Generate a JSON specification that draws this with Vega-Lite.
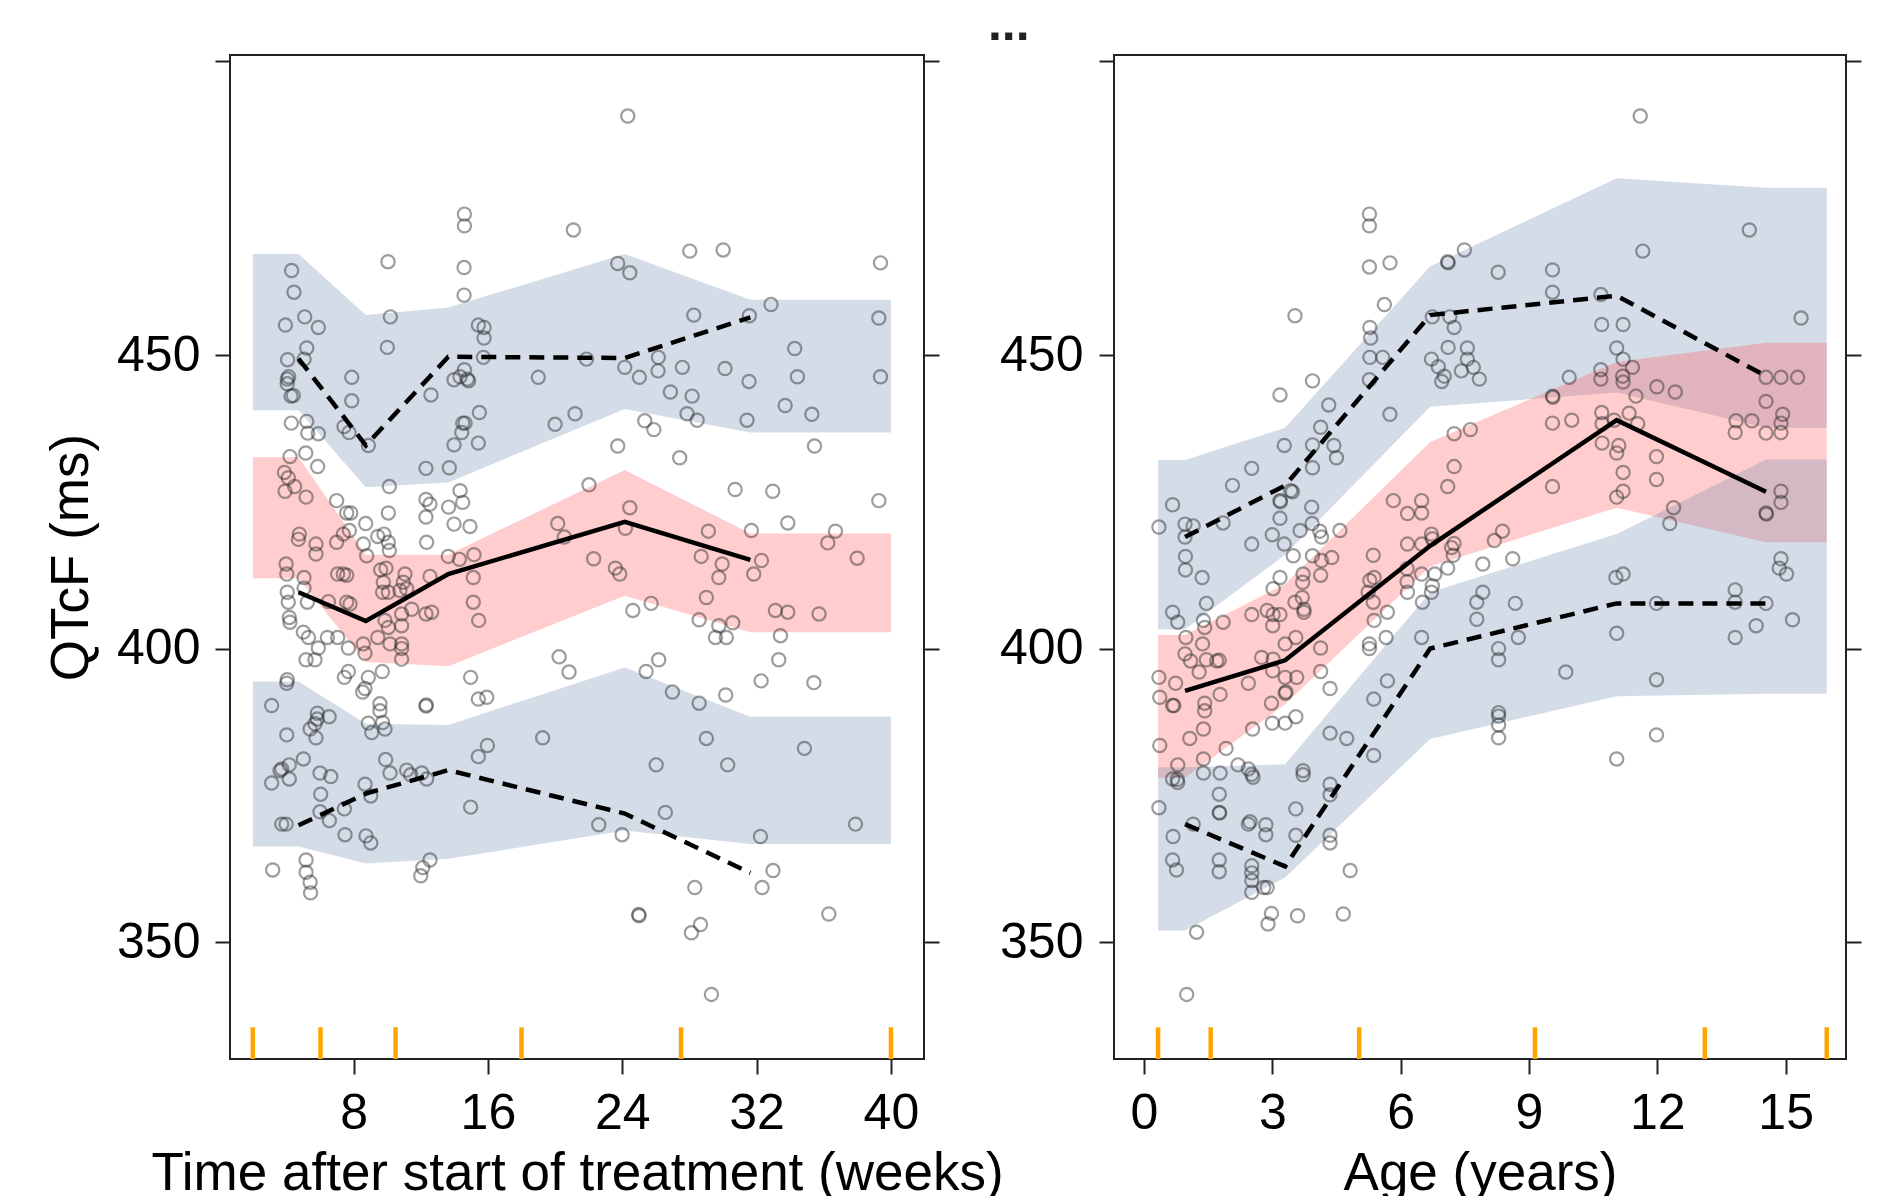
{
"$schema": "https://vega.github.io/schema/vega-lite/v6.json",
"background": "white",
"padding": {"left": 44, "top": 0, "right": 0, "bottom": 0},
"title": {"text": "...", "anchor": "middle", "fontSize": 50, "fontWeight": "bold", "color": "#222", "dx": 55, "offset": 4},
"spacing": 190,
"bounds": "flush",
"config": {
  "font": "Liberation Sans",
  "view": {"stroke": "#222", "strokeWidth": 2},
  "axis": {"grid": false, "domain": false, "tickColor": "#222", "tickWidth": 2, "tickSize": 15, "labelFontSize": 50, "labelColor": "black", "titleFontSize": 53, "titleColor": "black", "titleFontWeight": "normal", "labelFont": "Liberation Sans", "titleFont": "Liberation Sans"}
},
"datasets": {
"bandT": [
{"band":"p95","x":2.0,"lo":440.6,"hi":467.2},{"band":"p95","x":4.72,"lo":440.6,"hi":467.2},{"band":"p95","x":8.73,"lo":427.5,"hi":456.8},{"band":"p95","x":13.64,"lo":428.3,"hi":458.1},{"band":"p95","x":24.15,"lo":440.8,"hi":467.2},{"band":"p95","x":31.63,"lo":436.8,"hi":459.4},{"band":"p95","x":40.0,"lo":436.8,"hi":459.4},
{"band":"p50","x":2.0,"lo":412.0,"hi":432.6},{"band":"p50","x":4.72,"lo":412.0,"hi":432.6},{"band":"p50","x":8.73,"lo":397.7,"hi":416.0},{"band":"p50","x":13.64,"lo":397.0,"hi":416.0},{"band":"p50","x":24.15,"lo":409.0,"hi":430.4},{"band":"p50","x":31.63,"lo":402.8,"hi":419.6},{"band":"p50","x":40.0,"lo":402.8,"hi":419.6},
{"band":"p05","x":2.0,"lo":366.3,"hi":394.4},{"band":"p05","x":4.72,"lo":366.3,"hi":394.4},{"band":"p05","x":8.73,"lo":363.4,"hi":387.2},{"band":"p05","x":13.64,"lo":364.2,"hi":387.0},{"band":"p05","x":24.15,"lo":369.0,"hi":396.8},{"band":"p05","x":31.63,"lo":366.7,"hi":388.4},{"band":"p05","x":40.0,"lo":366.7,"hi":388.4}
],
"bandA": [
{"band":"p95","x":0.33,"lo":403.3,"hi":432.1},{"band":"p95","x":0.96,"lo":403.3,"hi":432.1},{"band":"p95","x":3.30,"lo":416.0,"hi":437.6},{"band":"p95","x":6.69,"lo":441.2,"hi":465.1},{"band":"p95","x":11.05,"lo":443.6,"hi":480.1},{"band":"p95","x":14.54,"lo":437.6,"hi":478.5},{"band":"p95","x":15.96,"lo":437.6,"hi":478.5},
{"band":"p50","x":0.33,"lo":378.0,"hi":402.3},{"band":"p50","x":0.96,"lo":378.0,"hi":402.3},{"band":"p50","x":3.30,"lo":390.5,"hi":411.0},{"band":"p50","x":6.69,"lo":414.0,"hi":435.2},{"band":"p50","x":11.05,"lo":424.0,"hi":448.8},{"band":"p50","x":14.54,"lo":418.1,"hi":452.1},{"band":"p50","x":15.96,"lo":418.1,"hi":452.1},
{"band":"p05","x":0.33,"lo":352.0,"hi":379.8},{"band":"p05","x":0.96,"lo":352.0,"hi":379.8},{"band":"p05","x":3.30,"lo":361.0,"hi":380.3},{"band":"p05","x":6.69,"lo":384.6,"hi":409.6},{"band":"p05","x":11.05,"lo":391.9,"hi":419.5},{"band":"p05","x":14.54,"lo":392.3,"hi":432.2},{"band":"p05","x":15.96,"lo":392.3,"hi":432.2}
],
"lineT": [
{"q":"p95","x":4.72,"y":449.4},{"q":"p95","x":8.73,"y":434.6},{"q":"p95","x":13.64,"y":449.7},{"q":"p95","x":24.15,"y":449.5},{"q":"p95","x":31.63,"y":456.4},
{"q":"p50","x":4.72,"y":409.6},{"q":"p50","x":8.73,"y":404.7},{"q":"p50","x":13.64,"y":412.7},{"q":"p50","x":24.15,"y":421.6},{"q":"p50","x":31.63,"y":415.1},
{"q":"p05","x":4.72,"y":369.9},{"q":"p05","x":8.73,"y":375.3},{"q":"p05","x":13.64,"y":379.3},{"q":"p05","x":24.15,"y":371.9},{"q":"p05","x":31.63,"y":361.8}
],
"lineA": [
{"q":"p95","x":0.96,"y":419.0},{"q":"p95","x":3.30,"y":427.8},{"q":"p95","x":6.69,"y":456.8},{"q":"p95","x":11.05,"y":460.1},{"q":"p95","x":14.54,"y":446.4},
{"q":"p50","x":0.96,"y":392.8},{"q":"p50","x":3.30,"y":398.0},{"q":"p50","x":6.69,"y":417.5},{"q":"p50","x":11.05,"y":438.9},{"q":"p50","x":14.54,"y":426.7},
{"q":"p05","x":0.96,"y":370.1},{"q":"p05","x":3.30,"y":362.9},{"q":"p05","x":6.69,"y":400.0},{"q":"p05","x":11.05,"y":407.7},{"q":"p05","x":14.54,"y":407.7}
],
"rugT": [{"x":2.0},{"x":6.03},{"x":10.5},{"x":18.0},{"x":27.5},{"x":40.0}],
"rugA": [{"x":0.33},{"x":1.56},{"x":5.03},{"x":9.14},{"x":13.11},{"x":15.96}],
"obsT": [
{"x":14.60,"y":474.0},{"x":14.60,"y":472.0},{"x":21.09,"y":471.3},{"x":10.05,"y":465.9},{"x":14.58,"y":464.9},{"x":4.31,"y":464.4},{"x":4.45,"y":460.7},{"x":14.58,"y":460.2},{"x":10.19,"y":456.5},{"x":5.09,"y":456.5},{"x":3.94,"y":455.1},{"x":5.90,"y":454.7},{"x":15.43,"y":455.1},{"x":15.77,"y":454.7},{"x":15.77,"y":452.9},{"x":10.01,"y":451.3},{"x":5.21,"y":451.2},{"x":4.07,"y":449.2},{"x":5.05,"y":449.3},{"x":15.73,"y":449.6},{"x":14.60,"y":447.5},{"x":7.89,"y":446.2},{"x":4.05,"y":445.9},{"x":4.13,"y":446.3},{"x":4.05,"y":445.1},{"x":4.41,"y":443.1},{"x":4.27,"y":443.0},{"x":13.98,"y":445.8},{"x":14.34,"y":446.3},{"x":14.78,"y":445.9},{"x":14.85,"y":445.6},{"x":19.00,"y":446.2},{"x":12.61,"y":443.2},{"x":7.89,"y":442.2},{"x":4.29,"y":438.4},{"x":5.21,"y":438.7},{"x":5.27,"y":436.7},{"x":5.90,"y":436.6},{"x":7.43,"y":437.8},{"x":7.73,"y":436.8},{"x":8.88,"y":434.6},{"x":15.49,"y":440.2},{"x":14.50,"y":438.4},{"x":14.64,"y":438.4},{"x":14.44,"y":436.8},{"x":20.00,"y":438.2},{"x":21.19,"y":440.0},{"x":13.98,"y":434.7},{"x":15.43,"y":435.0},{"x":4.21,"y":432.7},{"x":5.15,"y":433.3},{"x":5.86,"y":431.0},{"x":3.88,"y":430.0},{"x":4.11,"y":429.1},{"x":4.49,"y":427.6},{"x":3.92,"y":426.8},{"x":5.17,"y":425.8},{"x":12.31,"y":430.7},{"x":13.70,"y":430.8},{"x":10.13,"y":427.6},{"x":14.34,"y":426.9},{"x":14.50,"y":424.9},{"x":12.31,"y":425.4},{"x":12.55,"y":424.6},{"x":13.66,"y":424.1},{"x":6.99,"y":425.2},{"x":7.59,"y":423.1},{"x":7.83,"y":423.1},{"x":10.07,"y":423.1},{"x":8.72,"y":421.3},{"x":12.31,"y":422.4},{"x":13.98,"y":421.2},{"x":14.93,"y":420.8},{"x":20.16,"y":421.3},{"x":4.77,"y":419.5},{"x":4.71,"y":418.6},{"x":7.39,"y":419.5},{"x":7.75,"y":420.1},{"x":6.99,"y":418.1},{"x":9.44,"y":419.1},{"x":9.81,"y":419.5},{"x":5.76,"y":417.8},{"x":8.58,"y":417.8},{"x":12.35,"y":418.1},{"x":10.07,"y":418.1},{"x":20.55,"y":419.0},
{"x":24.33,"y":490.7},{"x":28.02,"y":467.7},{"x":30.01,"y":467.9},{"x":39.38,"y":465.7},{"x":23.73,"y":465.6},{"x":24.45,"y":464.0},{"x":32.86,"y":458.6},{"x":28.26,"y":456.8},{"x":31.57,"y":456.7},{"x":39.28,"y":456.3},{"x":34.27,"y":451.1},{"x":21.87,"y":449.3},{"x":26.15,"y":449.6},{"x":24.15,"y":447.9},{"x":25.02,"y":446.2},{"x":26.13,"y":447.3},{"x":27.58,"y":447.9},{"x":30.12,"y":447.7},{"x":31.55,"y":445.5},{"x":34.43,"y":446.3},{"x":39.38,"y":446.3},{"x":26.87,"y":443.7},{"x":28.16,"y":443.0},{"x":27.86,"y":440.0},{"x":28.46,"y":438.9},{"x":31.43,"y":438.9},{"x":33.70,"y":441.4},{"x":35.29,"y":439.9},{"x":25.34,"y":438.8},{"x":25.88,"y":437.3},{"x":23.73,"y":434.5},{"x":27.42,"y":432.5},{"x":35.45,"y":434.5},{"x":22.02,"y":427.9},{"x":30.72,"y":427.1},{"x":32.96,"y":426.8},{"x":39.28,"y":425.2},{"x":24.45,"y":424.0},{"x":24.19,"y":420.5},{"x":33.86,"y":421.4},{"x":29.13,"y":420.0},{"x":31.69,"y":420.1},{"x":36.70,"y":420.0},{"x":36.24,"y":418.0},
{"x":5.76,"y":416.1},{"x":8.78,"y":415.8},{"x":10.13,"y":416.7},{"x":13.64,"y":415.7},{"x":14.30,"y":415.2},{"x":15.17,"y":416.0},{"x":3.98,"y":414.4},{"x":4.02,"y":412.7},{"x":5.05,"y":412.1},{"x":5.05,"y":410.3},{"x":7.05,"y":412.7},{"x":7.39,"y":412.7},{"x":7.59,"y":412.5},{"x":9.61,"y":413.4},{"x":9.93,"y":413.7},{"x":9.77,"y":411.3},{"x":9.73,"y":409.6},{"x":10.07,"y":409.6},{"x":11.06,"y":412.7},{"x":10.96,"y":411.3},{"x":11.16,"y":410.2},{"x":10.76,"y":409.9},{"x":12.55,"y":412.3},{"x":15.13,"y":412.1},{"x":4.05,"y":409.6},{"x":4.11,"y":407.9},{"x":5.25,"y":407.9},{"x":6.50,"y":408.0},{"x":7.59,"y":407.9},{"x":7.79,"y":407.6},{"x":4.17,"y":405.3},{"x":4.21,"y":404.5},{"x":15.13,"y":407.9},{"x":15.45,"y":404.8},{"x":11.46,"y":406.7},{"x":10.86,"y":405.9},{"x":12.31,"y":405.9},{"x":12.65,"y":406.2},{"x":9.87,"y":404.8},{"x":10.07,"y":403.6},{"x":10.86,"y":403.9},{"x":5.01,"y":402.8},{"x":5.31,"y":401.9},{"x":6.44,"y":401.9},{"x":7.05,"y":401.9},{"x":5.90,"y":400.1},{"x":7.69,"y":400.1},{"x":9.44,"y":401.9},{"x":10.17,"y":400.8},{"x":10.86,"y":400.8},{"x":10.86,"y":400.0},{"x":8.58,"y":400.8},{"x":8.68,"y":399.2},{"x":10.86,"y":398.2},{"x":5.17,"y":398.1},{"x":5.70,"y":398.1},{"x":20.24,"y":398.6},{"x":20.83,"y":396.0},{"x":7.69,"y":396.1},{"x":7.45,"y":395.1},{"x":8.88,"y":395.1},{"x":9.71,"y":396.1},{"x":14.97,"y":395.1},{"x":4.05,"y":394.7},{"x":4.02,"y":394.1},{"x":8.68,"y":393.2},{"x":8.54,"y":392.6},{"x":15.43,"y":391.4},{"x":15.93,"y":391.7},{"x":9.57,"y":390.6},{"x":9.57,"y":389.4},{"x":12.31,"y":390.2},{"x":12.33,"y":390.4},{"x":3.12,"y":390.3},{"x":5.84,"y":389.0},{"x":6.54,"y":388.4},{"x":5.84,"y":388.0},{"x":5.70,"y":387.2},{"x":5.41,"y":386.3},{"x":5.76,"y":384.8},{"x":4.02,"y":385.3},{"x":8.88,"y":387.3},{"x":9.08,"y":385.7},{"x":9.73,"y":387.4},{"x":9.87,"y":386.3},{"x":19.26,"y":384.8},{"x":15.97,"y":383.5},{"x":15.43,"y":381.6},{"x":5.01,"y":381.2},{"x":4.17,"y":380.2},{"x":3.72,"y":379.5},{"x":3.62,"y":379.2},{"x":4.17,"y":377.8},{"x":3.12,"y":377.1},{"x":6.00,"y":378.8},{"x":6.64,"y":378.2},{"x":9.91,"y":381.1},{"x":10.17,"y":378.8},{"x":11.16,"y":379.3},{"x":11.40,"y":378.5},{"x":12.06,"y":378.8},{"x":12.35,"y":377.8},{"x":6.04,"y":375.2},{"x":8.68,"y":376.9},{"x":9.02,"y":374.9},{"x":14.97,"y":373.0},{"x":6.00,"y":372.2},{"x":6.56,"y":370.7},{"x":7.45,"y":372.7},{"x":3.72,"y":370.1},{"x":3.98,"y":370.1},{"x":7.49,"y":368.3},{"x":8.74,"y":368.1},{"x":9.02,"y":366.9},{"x":5.17,"y":364.0},{"x":3.18,"y":362.3},{"x":5.17,"y":361.9},{"x":5.41,"y":360.2},{"x":5.44,"y":358.4},{"x":12.55,"y":364.0},{"x":12.12,"y":362.7},{"x":12.00,"y":361.3},
{"x":22.30,"y":415.3},{"x":23.59,"y":413.7},{"x":23.85,"y":412.7},{"x":28.70,"y":415.7},{"x":29.95,"y":414.4},{"x":29.75,"y":412.1},{"x":32.29,"y":415.0},{"x":31.83,"y":412.7},{"x":37.99,"y":415.4},{"x":29.01,"y":408.7},{"x":25.72,"y":407.7},{"x":24.63,"y":406.5},{"x":28.58,"y":404.9},{"x":29.75,"y":403.9},{"x":30.58,"y":404.4},{"x":29.55,"y":401.9},{"x":30.20,"y":401.9},{"x":33.12,"y":406.5},{"x":33.86,"y":406.2},{"x":35.72,"y":405.9},{"x":33.42,"y":402.2},{"x":33.32,"y":398.1},{"x":26.17,"y":398.1},{"x":25.42,"y":396.1},{"x":32.27,"y":394.5},{"x":35.41,"y":394.2},{"x":26.99,"y":392.6},{"x":28.58,"y":390.7},{"x":30.16,"y":392.1},{"x":29.01,"y":384.7},{"x":26.02,"y":380.2},{"x":30.28,"y":380.2},{"x":34.85,"y":383.0},{"x":26.57,"y":372.1},{"x":22.60,"y":370.0},{"x":23.99,"y":368.3},{"x":32.23,"y":368.0},{"x":37.89,"y":370.1},{"x":32.98,"y":362.2},{"x":28.32,"y":359.3},{"x":32.33,"y":359.3},{"x":24.98,"y":354.7},{"x":25.00,"y":354.5},{"x":28.66,"y":353.0},{"x":28.12,"y":351.6},{"x":36.30,"y":354.8},{"x":29.31,"y":341.1}
],
"obsA": [
{"x":5.27,"y":474.0},{"x":5.27,"y":472.0},{"x":5.27,"y":465.0},{"x":5.75,"y":465.7},{"x":7.49,"y":467.9},{"x":7.10,"y":465.9},{"x":7.11,"y":465.7},{"x":3.53,"y":456.7},{"x":5.62,"y":458.6},{"x":5.28,"y":454.7},{"x":5.30,"y":452.9},{"x":6.74,"y":456.5},{"x":7.15,"y":456.5},{"x":7.25,"y":454.7},{"x":7.11,"y":451.3},{"x":7.56,"y":451.2},{"x":7.56,"y":449.3},{"x":6.72,"y":449.3},{"x":6.88,"y":448.0},{"x":7.02,"y":446.4},{"x":6.96,"y":445.5},{"x":7.42,"y":447.3},{"x":7.70,"y":447.9},{"x":7.84,"y":445.9},{"x":5.28,"y":449.6},{"x":5.58,"y":449.6},{"x":5.27,"y":445.8},{"x":3.94,"y":445.6},{"x":3.18,"y":443.2},{"x":5.75,"y":439.9},{"x":4.32,"y":441.5},{"x":4.13,"y":437.7},{"x":3.94,"y":434.7},{"x":4.44,"y":434.6},{"x":4.50,"y":432.5},{"x":3.28,"y":434.6},{"x":3.94,"y":430.8},{"x":2.52,"y":430.7},{"x":2.07,"y":427.8},{"x":3.18,"y":425.2},{"x":3.19,"y":425.0},{"x":3.43,"y":426.9},{"x":3.47,"y":426.7},{"x":0.67,"y":424.5},{"x":3.92,"y":424.1},{"x":0.96,"y":421.2},{"x":1.15,"y":420.9},{"x":1.85,"y":421.4},{"x":0.35,"y":420.7},{"x":3.18,"y":422.2},{"x":3.93,"y":421.3},{"x":3.65,"y":420.1},{"x":4.11,"y":420.0},{"x":4.15,"y":419.0},{"x":4.58,"y":420.1},{"x":3.00,"y":419.4},{"x":3.28,"y":417.8},{"x":2.52,"y":417.8},{"x":0.96,"y":419.0},{"x":7.25,"y":436.6},{"x":7.63,"y":437.3},{"x":7.25,"y":431.0},{"x":7.10,"y":427.6},{"x":5.83,"y":425.2},{"x":6.16,"y":423.0},{"x":6.49,"y":425.2},{"x":6.49,"y":423.1},{"x":6.72,"y":419.5},{"x":6.74,"y":418.7},{"x":6.16,"y":417.8},{"x":6.49,"y":417.8},{"x":7.25,"y":417.9},{"x":7.19,"y":417.2},
{"x":11.60,"y":490.7},{"x":14.15,"y":471.3},{"x":11.66,"y":467.7},{"x":8.28,"y":464.1},{"x":9.55,"y":464.5},{"x":9.55,"y":460.7},{"x":10.68,"y":460.3},{"x":15.36,"y":456.3},{"x":10.70,"y":455.2},{"x":11.20,"y":455.2},{"x":11.05,"y":451.2},{"x":11.20,"y":449.3},{"x":11.42,"y":447.9},{"x":10.68,"y":447.5},{"x":10.68,"y":445.9},{"x":11.19,"y":446.4},{"x":11.20,"y":445.4},{"x":9.94,"y":446.2},{"x":11.99,"y":444.6},{"x":12.42,"y":443.7},{"x":11.50,"y":443.0},{"x":9.55,"y":443.0},{"x":9.56,"y":442.8},{"x":14.54,"y":446.2},{"x":14.89,"y":446.2},{"x":15.28,"y":446.2},{"x":14.54,"y":442.1},{"x":14.93,"y":439.9},{"x":14.89,"y":438.4},{"x":14.89,"y":436.8},{"x":14.54,"y":436.7},{"x":13.84,"y":438.8},{"x":14.21,"y":438.8},{"x":13.82,"y":436.8},{"x":9.55,"y":438.4},{"x":10.00,"y":438.9},{"x":10.70,"y":440.2},{"x":10.71,"y":438.3},{"x":11.34,"y":440.1},{"x":11.54,"y":438.3},{"x":10.99,"y":438.9},{"x":10.71,"y":435.0},{"x":11.10,"y":434.6},{"x":11.05,"y":433.3},{"x":11.98,"y":432.7},{"x":11.20,"y":430.0},{"x":11.98,"y":428.8},{"x":9.55,"y":427.6},{"x":11.20,"y":426.8},{"x":11.05,"y":425.8},{"x":14.89,"y":426.8},{"x":14.89,"y":424.9},{"x":14.54,"y":423.1},{"x":14.55,"y":422.9},{"x":12.38,"y":424.0},{"x":12.29,"y":421.3},{"x":8.38,"y":420.0},{"x":8.19,"y":418.4},
{"x":0.97,"y":415.7},{"x":0.97,"y":413.4},{"x":1.36,"y":412.1},{"x":1.46,"y":407.7},{"x":0.67,"y":406.2},{"x":0.79,"y":404.5},{"x":1.39,"y":404.8},{"x":1.42,"y":403.6},{"x":1.85,"y":404.5},{"x":2.52,"y":405.8},{"x":2.88,"y":406.5},{"x":3.02,"y":405.8},{"x":3.18,"y":405.8},{"x":3.01,"y":403.9},{"x":3.02,"y":410.2},{"x":3.18,"y":412.1},{"x":3.49,"y":415.8},{"x":3.72,"y":412.7},{"x":3.71,"y":411.3},{"x":3.94,"y":415.8},{"x":4.15,"y":415.0},{"x":4.39,"y":415.5},{"x":4.13,"y":412.5},{"x":3.53,"y":407.9},{"x":3.70,"y":408.7},{"x":3.74,"y":406.7},{"x":3.74,"y":406.2},{"x":3.55,"y":401.9},{"x":3.30,"y":400.8},{"x":4.13,"y":400.1},{"x":4.13,"y":396.1},{"x":4.35,"y":393.2},{"x":3.57,"y":395.1},{"x":3.30,"y":395.1},{"x":3.30,"y":392.4},{"x":3.32,"y":392.6},{"x":2.98,"y":390.7},{"x":3.00,"y":387.3},{"x":3.30,"y":387.3},{"x":3.55,"y":388.4},{"x":2.44,"y":394.1},{"x":1.78,"y":392.2},{"x":3.02,"y":398.2},{"x":2.75,"y":398.5},{"x":3.01,"y":396.2},{"x":1.70,"y":397.9},{"x":1.76,"y":398.0},{"x":1.46,"y":398.1},{"x":1.09,"y":397.9},{"x":1.37,"y":400.8},{"x":0.96,"y":399.1},{"x":1.29,"y":396.0},{"x":0.98,"y":401.9},{"x":0.35,"y":395.1},{"x":0.74,"y":394.1},{"x":0.37,"y":391.7},{"x":0.67,"y":390.3},{"x":0.70,"y":390.3},{"x":1.42,"y":390.7},{"x":1.42,"y":389.4},{"x":1.39,"y":386.3},{"x":1.07,"y":384.7},{"x":0.37,"y":383.5},{"x":1.92,"y":383.0},{"x":2.54,"y":386.3},{"x":1.39,"y":381.2},{"x":0.79,"y":380.2},{"x":0.67,"y":377.8},{"x":0.79,"y":377.2},{"x":0.78,"y":377.7},{"x":1.39,"y":378.8},{"x":1.78,"y":378.8},{"x":2.20,"y":380.2},{"x":2.44,"y":379.5},{"x":2.52,"y":378.6},{"x":2.55,"y":378.1},{"x":3.72,"y":379.2},{"x":3.72,"y":378.5},{"x":4.35,"y":385.6},{"x":4.74,"y":384.7},{"x":5.37,"y":381.8},{"x":5.37,"y":391.4},{"x":5.69,"y":394.5},{"x":5.27,"y":400.8},{"x":5.27,"y":400.0},{"x":5.66,"y":401.9},{"x":5.69,"y":406.2},{"x":5.38,"y":404.8},{"x":6.49,"y":401.9},{"x":5.36,"y":407.9},{"x":5.24,"y":409.6},{"x":5.28,"y":411.6},{"x":5.38,"y":412.1},{"x":5.36,"y":415.9},{"x":6.15,"y":413.6},{"x":6.15,"y":411.4},{"x":6.16,"y":409.6},{"x":6.49,"y":412.7},{"x":6.51,"y":407.9},{"x":6.72,"y":409.6},{"x":6.74,"y":410.7},{"x":6.80,"y":412.7},{"x":7.10,"y":413.7},{"x":7.23,"y":415.9},{"x":7.78,"y":407.9},{"x":7.78,"y":405.0},{"x":4.35,"y":376.9},{"x":4.35,"y":375.1},{"x":3.55,"y":372.7},{"x":3.55,"y":368.2},{"x":4.35,"y":368.2},{"x":4.35,"y":366.9},{"x":4.82,"y":362.2},{"x":1.76,"y":375.2},{"x":1.76,"y":372.1},{"x":1.77,"y":372.0},{"x":2.44,"y":370.1},{"x":2.48,"y":370.5},{"x":2.85,"y":370.0},{"x":2.85,"y":368.3},{"x":1.15,"y":370.1},{"x":0.68,"y":368.0},{"x":0.35,"y":372.9},{"x":0.67,"y":364.0},{"x":0.76,"y":362.3},{"x":1.76,"y":364.0},{"x":1.76,"y":362.0},{"x":2.52,"y":363.0},{"x":2.52,"y":361.8},{"x":2.52,"y":360.5},{"x":2.52,"y":358.5},{"x":2.80,"y":359.3},{"x":2.88,"y":359.3},{"x":2.98,"y":354.9},{"x":2.90,"y":353.1},{"x":3.59,"y":354.5},{"x":4.66,"y":354.8},{"x":1.23,"y":351.7},{"x":1.00,"y":341.1},
{"x":7.92,"y":414.4},{"x":8.62,"y":415.3},{"x":7.92,"y":409.6},{"x":8.68,"y":407.7},{"x":8.75,"y":401.9},{"x":8.29,"y":400.0},{"x":8.29,"y":398.1},{"x":9.86,"y":396.0},{"x":8.29,"y":389.1},{"x":8.29,"y":388.5},{"x":8.29,"y":387.0},{"x":8.29,"y":384.8},{"x":11.03,"y":412.1},{"x":11.20,"y":412.7},{"x":11.05,"y":402.6},{"x":11.98,"y":407.7},{"x":11.98,"y":394.7},{"x":11.98,"y":385.3},{"x":11.05,"y":381.2},{"x":13.82,"y":410.0},{"x":13.82,"y":407.9},{"x":13.82,"y":401.9},{"x":14.54,"y":407.7},{"x":14.31,"y":403.9},{"x":14.89,"y":415.3},{"x":14.85,"y":413.7},{"x":15.02,"y":412.7},{"x":15.16,"y":404.9}
]
},
"hconcat": [
{
  "width": 694, "height": 1004,
  "resolve": {"axis": {"y": "independent"}},
  "encoding": {"x": {"field": "x", "type": "quantitative", "scale": {"domain": [0.64, 41.97], "nice": false, "zero": false}, "axis": {"values": [8, 16, 24, 32, 40], "title": "Time after start of treatment (weeks)", "labelPadding": 14, "titlePadding": 9}}},
  "layer": [
    {"data": {"name": "bandT"}, "mark": {"type": "area", "fillOpacity": 0.3, "clip": true},
     "encoding": {"y": {"field": "lo", "type": "quantitative", "scale": {"domain": [330.1, 501.1], "nice": false, "zero": false}, "axis": {"orient": "left", "values": [350, 400, 450, 500], "labelExpr": "datum.value == 500 ? '' : datum.label", "title": "QTcF (ms)", "labelPadding": 15, "titlePadding": 18}},
       "y2": {"field": "hi"},
       "color": {"field": "band", "type": "nominal", "scale": {"domain": ["p05", "p50", "p95"], "range": ["#708ab2", "#ff5858", "#708ab2"]}, "legend": null}}},
    {"data": {"name": "obsT"}, "mark": {"type": "point", "shape": "circle", "filled": false, "size": 175, "stroke": "#2a2a2a", "strokeOpacity": 0.65, "strokeWidth": 2.2, "clip": true},
     "encoding": {"y": {"field": "y", "type": "quantitative", "scale": {"domain": [330.1, 501.1], "nice": false, "zero": false}, "axis": {"orient": "right", "values": [350, 400, 450, 500], "labels": false, "title": null}}}},
    {"data": {"name": "lineT"}, "transform": [{"filter": "datum.q == 'p50'"}], "mark": {"type": "line", "color": "black", "strokeWidth": 4.5},
     "encoding": {"y": {"field": "y", "type": "quantitative", "scale": {"domain": [330.1, 501.1], "nice": false, "zero": false}, "axis": null}}},
    {"data": {"name": "lineT"}, "transform": [{"filter": "datum.q != 'p50'"}], "mark": {"type": "line", "color": "black", "strokeWidth": 4.5, "strokeDash": [15, 9]},
     "encoding": {"y": {"field": "y", "type": "quantitative", "scale": {"domain": [330.1, 501.1], "nice": false, "zero": false}, "axis": null}, "detail": {"field": "q"}}},
    {"data": {"name": "rugT"}, "mark": {"type": "rule", "color": "#FFA500", "strokeWidth": 4.5},
     "encoding": {"y": {"datum": 330.1, "type": "quantitative", "scale": {"domain": [330.1, 501.1], "nice": false, "zero": false}, "axis": null}, "y2": {"datum": 335.5}}}
  ]
},
{
  "width": 732, "height": 1004,
  "resolve": {"axis": {"y": "independent"}},
  "encoding": {"x": {"field": "x", "type": "quantitative", "scale": {"domain": [-0.70, 16.41], "nice": false, "zero": false}, "axis": {"values": [0, 3, 6, 9, 12, 15], "title": "Age (years)", "labelPadding": 14, "titlePadding": 9}}},
  "layer": [
    {"data": {"name": "bandA"}, "mark": {"type": "area", "fillOpacity": 0.3, "clip": true},
     "encoding": {"y": {"field": "lo", "type": "quantitative", "scale": {"domain": [330.1, 501.1], "nice": false, "zero": false}, "axis": {"orient": "left", "values": [350, 400, 450, 500], "labelExpr": "datum.value == 500 ? '' : datum.label", "title": null, "labelPadding": 16}},
       "y2": {"field": "hi"},
       "color": {"field": "band", "type": "nominal", "scale": {"domain": ["p05", "p50", "p95"], "range": ["#708ab2", "#ff5858", "#708ab2"]}, "legend": null}}},
    {"data": {"name": "obsA"}, "mark": {"type": "point", "shape": "circle", "filled": false, "size": 175, "stroke": "#2a2a2a", "strokeOpacity": 0.65, "strokeWidth": 2.2, "clip": true},
     "encoding": {"y": {"field": "y", "type": "quantitative", "scale": {"domain": [330.1, 501.1], "nice": false, "zero": false}, "axis": {"orient": "right", "values": [350, 400, 450, 500], "labels": false, "title": null}}}},
    {"data": {"name": "lineA"}, "transform": [{"filter": "datum.q == 'p50'"}], "mark": {"type": "line", "color": "black", "strokeWidth": 4.5},
     "encoding": {"y": {"field": "y", "type": "quantitative", "scale": {"domain": [330.1, 501.1], "nice": false, "zero": false}, "axis": null}}},
    {"data": {"name": "lineA"}, "transform": [{"filter": "datum.q != 'p50'"}], "mark": {"type": "line", "color": "black", "strokeWidth": 4.5, "strokeDash": [15, 9]},
     "encoding": {"y": {"field": "y", "type": "quantitative", "scale": {"domain": [330.1, 501.1], "nice": false, "zero": false}, "axis": null}, "detail": {"field": "q"}}},
    {"data": {"name": "rugA"}, "mark": {"type": "rule", "color": "#FFA500", "strokeWidth": 4.5},
     "encoding": {"y": {"datum": 330.1, "type": "quantitative", "scale": {"domain": [330.1, 501.1], "nice": false, "zero": false}, "axis": null}, "y2": {"datum": 335.5}}}
  ]
}
]
}
